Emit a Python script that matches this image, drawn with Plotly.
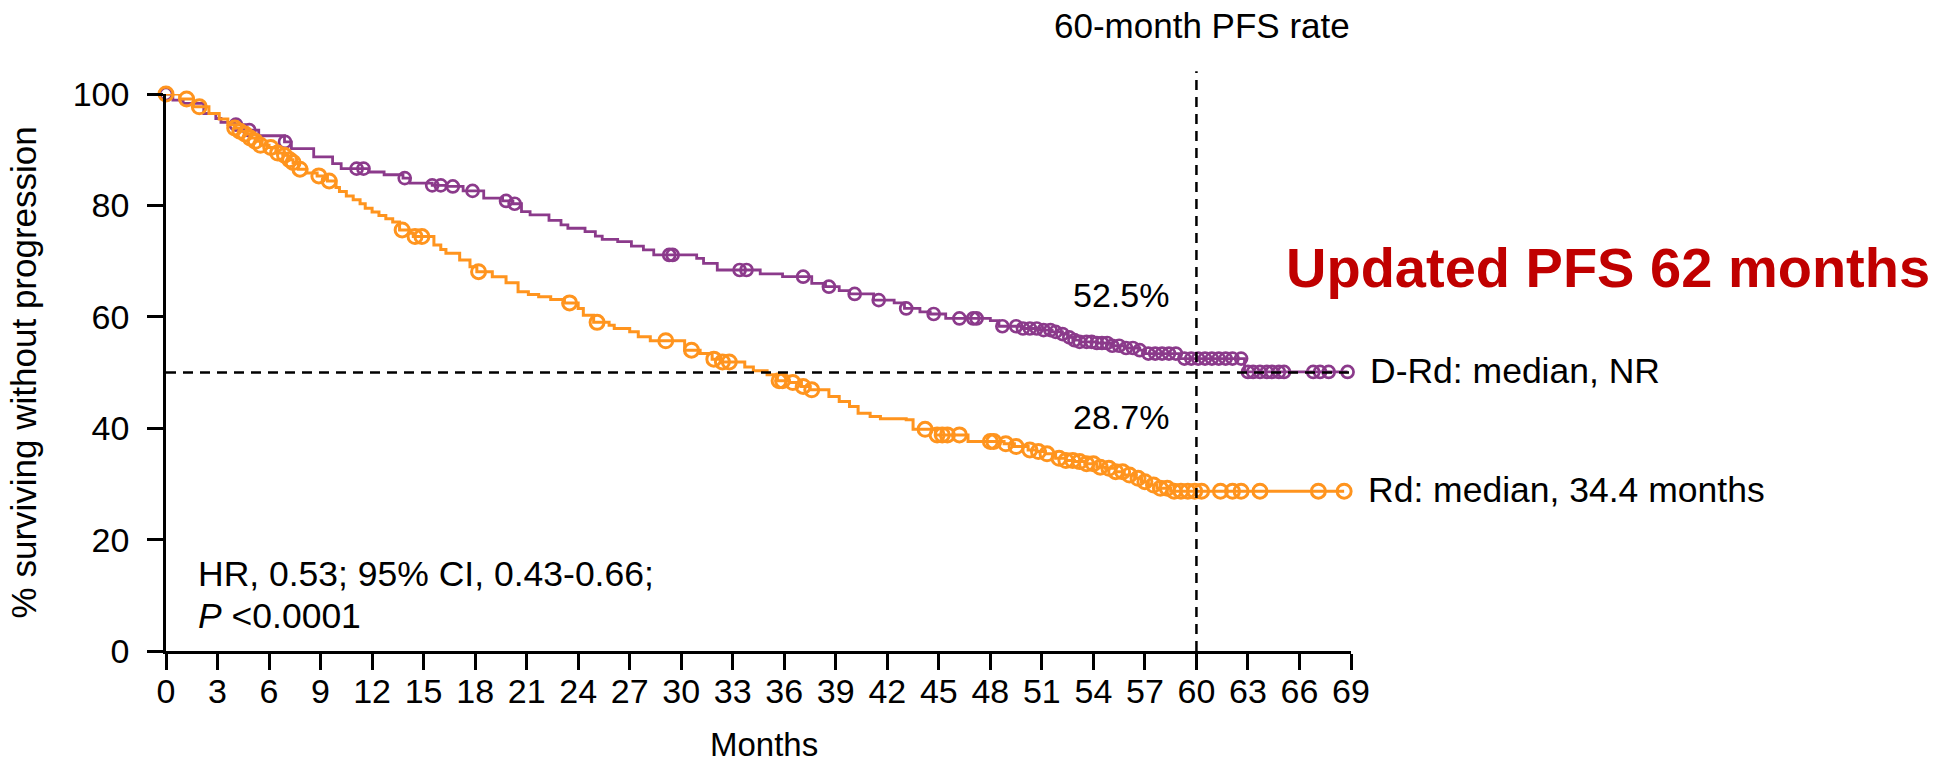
import numpy as np
import plotly.graph_objects as go

# Kaplan-Meier step curves: event times (months) and survival (%) after each step
drd_time = [0, 0.4, 1.0, 2.2, 2.9, 3.2, 4.0, 4.6, 5.4, 6.9, 7.3, 8.6, 9.7, 10.2, 11.8,
            12.7, 13.8, 14.2, 15.5, 16.3, 17.3, 18.5, 19.6, 20.2, 20.7, 21.2, 22.3, 23.0,
            23.4, 24.4, 25.0, 25.4, 26.3, 27.1, 27.8, 28.4, 30.9, 31.3, 32.1, 34.6, 35.9,
            37.6, 38.4, 39.2, 39.8, 41.2, 42.4, 43.0, 43.9, 44.5, 45.4, 48.0, 48.5, 49.8,
            50.9, 51.6, 52.2, 52.5, 52.8, 53.2, 54.2, 55.0, 55.8, 56.7, 57.0, 59.0, 62.8]
drd_surv = [100, 98.9, 98.3, 96.5, 95.6, 94.9, 94.5, 93.5, 92.5, 91.4, 90.2, 88.7, 87.5,
            86.6, 86.0, 85.5, 84.9, 84.0, 83.6, 83.4, 82.6, 81.3, 80.8, 80.3, 78.9, 78.3,
            77.3, 76.5, 75.9, 75.3, 74.5, 73.9, 73.5, 72.7, 72.0, 71.1, 70.5, 69.6, 68.4,
            67.7, 67.2, 66.0, 65.4, 64.7, 64.1, 63.0, 62.5, 61.5, 60.9, 60.5, 59.7, 59.3,
            58.3, 57.9, 57.6, 57.3, 56.9, 56.3, 55.8, 55.5, 55.3, 54.8, 54.4, 54.0, 53.4,
            52.5, 50.1]
drd_censor = [0, 4.07, 4.85, 6.93, 11.1, 11.5, 13.9, 15.5, 16.0, 16.7, 17.85, 19.8, 20.3,
              29.3, 29.5, 33.4, 33.8, 37.1, 38.6, 40.1, 41.5, 43.1, 44.7, 46.2, 47.0, 47.2,
              48.7, 49.5, 49.9, 50.3, 50.7, 51.1, 51.5, 51.8, 52.2, 52.6, 52.9, 53.2, 53.6,
              53.9, 54.2, 54.5, 54.8, 55.1, 55.5, 55.9, 56.3, 56.7, 57.2, 57.6, 58.0, 58.4,
              58.8, 59.3, 59.7, 60.1, 60.5, 60.9, 61.3, 61.7, 62.1, 62.6, 63.0, 63.3, 63.7,
              64.1, 64.4, 64.8, 65.1, 66.8, 67.2, 67.7, 68.8]

rd_time = [0, 0.8, 1.6, 2.5, 3.1, 3.6, 4.0, 4.3, 4.6, 4.9, 5.2, 5.5, 6.0, 6.4, 6.8, 7.1,
           7.4, 7.7, 8.2, 8.8, 9.4, 9.9, 10.1, 10.5, 10.9, 11.3, 11.6, 12.0, 12.4, 12.8,
           13.2, 13.6, 14.2, 14.4, 15.6, 16.0, 16.3, 17.1, 17.7, 18.1, 19.0, 19.8, 20.5,
           21.1, 21.7, 22.4, 23.2, 24.0, 24.3, 24.9, 25.8, 26.1, 27.0, 27.5, 28.2, 30.2,
           31.1, 31.8, 32.3, 33.7, 34.2, 35.0, 35.6, 36.3, 37.0, 37.5, 38.6, 39.2, 39.8,
           40.3, 41.0, 41.6, 43.1, 43.5, 44.8, 46.7, 48.8, 49.4, 50.2, 50.7, 51.2, 51.8,
           52.4, 52.9, 53.5, 54.2, 54.7, 55.3, 55.8, 56.4, 56.8, 57.2, 57.7, 58.5]
rd_surv = [100, 99.1, 97.7, 96.5, 95.5, 94.5, 93.9, 93.3, 92.8, 92.1, 91.5, 90.8, 90.4,
           89.4, 89.0, 88.2, 87.7, 86.5, 85.8, 85.3, 84.4, 83.2, 82.5, 81.7, 81.0, 80.3,
           79.5, 78.8, 78.2, 77.6, 77.0, 75.6, 75.0, 74.4, 72.9, 72.1, 71.4, 70.2, 69.0,
           68.1, 67.2, 66.1, 64.5, 64.0, 63.6, 63.1, 62.5, 61.5, 60.3, 59.0, 58.5, 57.9,
           57.3, 56.4, 55.7, 54.0, 53.4, 52.4, 51.9, 51.0, 50.3, 49.6, 48.5, 48.2, 47.5,
           46.9, 45.7, 44.8, 43.9, 42.7, 42.1, 41.7, 41.5, 39.8, 38.8, 37.6, 37.2, 36.7,
           36.1, 35.8, 35.4, 34.6, 34.2, 34.0, 33.6, 33.0, 32.8, 32.2, 31.6, 31.0, 30.4,
           29.8, 29.2, 28.7]
rd_censor = [0, 1.2, 1.94, 4.0, 4.3, 4.6, 4.9, 5.2, 5.5, 6.1, 6.5, 6.9, 7.2, 7.4, 7.8, 8.9,
             9.5, 13.75, 14.5, 14.9, 18.2, 23.5, 25.1, 29.1, 30.6, 31.9, 32.4, 32.8, 35.7,
             35.9, 36.5, 37.1, 37.6, 44.2, 44.9, 45.2, 45.5, 46.2, 48.0, 48.2, 48.9, 49.5,
             50.3, 50.8, 51.3, 52.0, 52.4, 52.8, 53.2, 53.6, 54.0, 54.4, 54.9, 55.3, 55.7,
             56.1, 56.6, 57.0, 57.5, 57.9, 58.3, 58.7, 59.1, 59.5, 59.9, 60.3, 61.4, 62.1,
             62.6, 63.7, 67.1, 68.6]

x_ticks = list(range(0, 70, 3))
y_ticks = [0, 20, 40, 60, 80, 100]
X_MAX, Y_MAX = 69, 100
LANDMARK = 60

PURPLE = "#8B3A8B"
ORANGE = "#FF941E"
FONT = "Liberation Sans, Arial, Helvetica, sans-serif"


def step_value(times, surv, t):
    """Survival of a step curve at time t (right-continuous)."""
    idx = np.searchsorted(np.asarray(times), t, side="right") - 1
    return float(np.asarray(surv)[idx])


def km_traces(times, surv, censor, color, msize, mlw, lw):
    end = max(censor)
    xs = list(times) + [end]
    ys = list(surv) + [surv[-1]]
    line = go.Scatter(x=xs, y=ys, mode="lines", line=dict(color=color, width=lw, shape="hv"),
                      hoverinfo="skip", showlegend=False, cliponaxis=False)
    cy = [step_value(times, surv, t) for t in censor]
    marks = go.Scatter(x=censor, y=cy, mode="markers",
                       marker=dict(symbol="circle-open", size=msize, color=color,
                                   line=dict(color=color, width=mlw)),
                       showlegend=False, cliponaxis=False)
    return [line, marks]


fig = go.Figure()
for tr in km_traces(drd_time, drd_surv, drd_censor, PURPLE, 12, 2.7, 2.8):
    fig.add_trace(tr)
for tr in km_traces(rd_time, rd_surv, rd_censor, ORANGE, 14, 3, 3):
    fig.add_trace(tr)

# reference lines: median (50%) and 60-month landmark (paper coords so it may pass the top)
dash = dict(color="black", width=2.5, dash="10px,7px")
fig.add_shape(type="line", xref="paper", yref="paper", x0=0, x1=1,
              y0=50 / Y_MAX, y1=50 / Y_MAX, line=dash)
fig.add_shape(type="line", xref="paper", yref="paper", x0=LANDMARK / X_MAX, x1=LANDMARK / X_MAX,
              y0=0, y1=104.1 / Y_MAX, line=dash)


def note(m, v, text, anchor, size=35, color="black", bold=False, angle=0):
    """Place text at a (months, %) position expressed in paper units."""
    fig.add_annotation(xref="paper", yref="paper", x=m / X_MAX, y=v / Y_MAX,
                       text=f"<b>{text}</b>" if bold else text, textangle=angle,
                       xanchor=anchor, yanchor="middle", showarrow=False,
                       font=dict(family=FONT, size=size, color=color))


note(60.3, 112.3, "60-month PFS rate", "center")
note(58.5, 63.9, "52.5%", "right", size=34)
note(58.5, 42.0, "28.7%", "right", size=34)
note(70.0, 50.3, "D-Rd: median, NR", "left", size=35.5)
note(69.9, 28.9, "Rd: median, 34.4 months", "left", size=35.5)
note(1.72, 13.8, "HR, 0.53; 95% CI, 0.43-0.66;", "left", size=35.5)
note(1.72, 6.3, "<i>P</i> &lt;0.0001", "left", size=35.5)
note(34.8, -16.7, "Months", "center", size=33)
note(65.1, 68.9, "Updated PFS 62 months", "left", size=56, color="#C00000", bold=True)
note(-8.3, 50.1, "% surviving without progression", "center", size=35, angle=-90)

axis_common = dict(showline=True, linecolor="black", linewidth=2.5, ticks="outside",
                   ticklen=16, tickwidth=2.5, tickcolor="black", showgrid=False,
                   zeroline=False, tickfont=dict(family=FONT, size=34, color="black"))
fig.update_xaxes(range=[0, X_MAX], tickvals=x_ticks, ticktext=[str(v) for v in x_ticks],
                 ticklabelstandoff=-8, **axis_common)
fig.update_yaxes(range=[0, Y_MAX], tickvals=y_ticks, ticktext=[str(v) for v in y_ticks],
                 ticklabelstandoff=11, **axis_common)

fig.update_layout(width=1947, height=764, margin=dict(l=166, r=596, t=94, b=113),
                  plot_bgcolor="white", paper_bgcolor="white", showlegend=False)

fig.write_html("out.html")
